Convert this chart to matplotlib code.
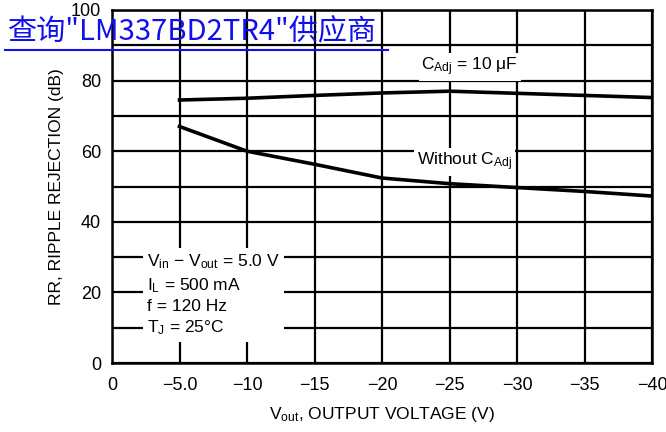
import matplotlib
matplotlib.use("Agg")
import matplotlib.pyplot as plt
from matplotlib import font_manager

names = {f.name for f in font_manager.fontManager.ttflist}
base = "Liberation Sans Narrow" if "Liberation Sans Narrow" in names else "Liberation Sans"
plt.rcParams['font.family'] = [base, 'DejaVu Sans']
plt.rcParams['mathtext.fontset'] = 'custom'
plt.rcParams['mathtext.rm'] = base
plt.rcParams['mathtext.it'] = base
plt.rcParams['mathtext.sf'] = base

# data
vout_cadj = [-5, -10, -15, -20, -25, -30, -35, -40]
rr_cadj = [74.5, 75.0, 75.8, 76.5, 77.0, 76.4, 75.8, 75.2]
vout_nocadj = [-5, -10, -15, -20, -25, -30, -35, -40]
rr_nocadj = [67.0, 60.0, 56.3, 52.4, 50.8, 49.7, 48.6, 47.3]
xticks = [0, -5, -10, -15, -20, -25, -30, -35, -40]
xticklabels = ['0', '−5.0', '−10', '−15', '−20', '−25', '−30', '−35', '−40']
yticks = [0, 20, 40, 60, 80, 100]

fig = plt.figure(figsize=(6.66, 4.32), dpi=100)
ax = fig.add_axes([112/666, 1-363/432, 540/666, 353/432])
ax.set_xlim(0, -40)
ax.set_ylim(0, 100)
ax.set_xticks(xticks)
ax.set_xticklabels(xticklabels)
ax.set_yticks(yticks)
ax.set_yticks(range(0, 101, 10), minor=True)
ax.set_xticks(range(0, -41, -5), minor=True)
ax.grid(True, which='both', color='black', linewidth=1.6)
ax.tick_params(which='both', length=0, labelsize=13)
ax.tick_params(axis='x', pad=10)
ax.tick_params(axis='y', pad=8)
for s in ax.spines.values():
    s.set_linewidth(1.8)

ax.plot(vout_cadj, rr_cadj, color='black', linewidth=2.6, zorder=3)
ax.plot(vout_nocadj, rr_nocadj, color='black', linewidth=2.6, zorder=3)

bbox = dict(facecolor='white', edgecolor='none', pad=2)
ax.text(-26.5, 83.8, r'C$_{\mathrm{Adj}}$ = 10 $\mu$F', fontsize=12.5, ha='center', va='center', bbox=bbox, zorder=4)
ax.text(-26.1, 56.9, r'Without C$_{\mathrm{Adj}}$', fontsize=12.5, ha='center', va='center', bbox=bbox, zorder=4)

spec = (r'V$_{\mathrm{in}}$ − V$_{\mathrm{out}}$ = 5.0 V' + '\n' +
        r'I$_{\mathrm{L}}$ = 500 mA' + '\n' +
        'f = 120 Hz' + '\n' +
        r'T$_{\mathrm{J}}$ = 25°C')
ax.text(-2.6, 19.3, spec, fontsize=12.5, ha='left', va='center', linespacing=1.35,
        bbox=dict(facecolor='white', edgecolor='none', pad=3), zorder=4)

ax.set_xlabel(r'V$_{\mathrm{out}}$, OUTPUT VOLTAGE (V)', fontsize=12.5, labelpad=8)
ax.set_ylabel('RR, RIPPLE REJECTION (dB)', fontsize=12.5, labelpad=5)

t = fig.text(8/666, 1-39/432, '查询"LM337BD2TR4"供应商', fontsize=21, color='#1010ee',
             family=['Noto Sans CJK SC', 'DejaVu Sans'], ha='left', va='baseline', zorder=10)
fig.add_artist(plt.Line2D([5/666, 388/666], [1-50/432, 1-50/432], color='#1010ee', linewidth=1.5))

fig.savefig('out.png', dpi=100)
